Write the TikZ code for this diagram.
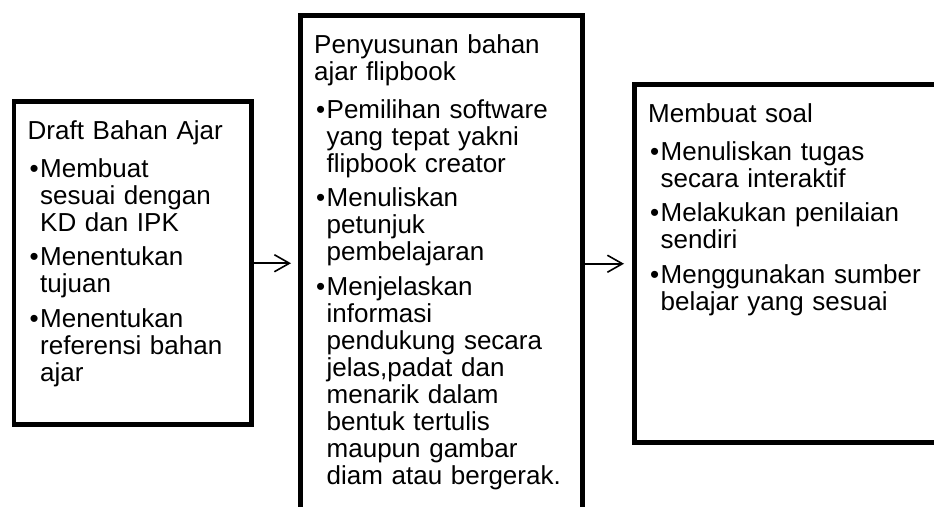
\documentclass[tikz,border=0pt]{standalone}
\usepackage{fontspec}
\setmainfont{Liberation Sans}
\usetikzlibrary{arrows.meta,positioning}
% bullet item with hanging indent
\newcommand{\pitem}[1]{\par\vspace{7.5pt}\leftskip=12.5pt\noindent\hspace*{-12.5pt}\makebox[12.5pt][l]{\hspace{2pt}\textbullet}#1\par}

\begin{document}
\begin{tikzpicture}[x=1pt,y=1pt,>=Latex,
  stepbox/.style={draw,line width=4.5pt,inner sep=0pt,anchor=north west},
  boxtext/.style={anchor=north west,inner sep=0pt,text width=330pt,align=left,
    font=\fontsize{26}{27}\selectfont},
  flowarrow/.style={line width=1.6pt,-{Straight Barb[length=15pt,width=17pt]}}]
  \useasboundingbox (0,0) rectangle (934,506);
  % Boxes
  \node[stepbox,minimum width=237.5pt,minimum height=323pt] (draft) at (11.5,406.5) {};
  \node[stepbox,minimum width=282pt,minimum height=520pt] (flipbook) at (298,492.5) {};
  \node[stepbox,minimum width=330pt,minimum height=358pt] (soal) at (632,423.5) {};
  % Box contents
  \node[boxtext] (drafttext) at ([shift={(16,-20.5)}]draft.north west) {\strut Draft Bahan Ajar\par\vspace{3.5pt}
    \pitem{Membuat\\sesuai dengan\\KD dan IPK}
    \pitem{Menentukan\\tujuan}
    \pitem{Menentukan\\referensi bahan\\ajar}};
  \node[boxtext] (flipbooktext) at ([shift={(16,-20.5)}]flipbook.north west) {\strut Penyusunan bahan\\ajar flipbook\par\vspace{3.5pt}
    \pitem{Pemilihan software\\yang tepat yakni\\flipbook creator}
    \pitem{Menuliskan\\petunjuk\\pembelajaran}
    \pitem{Menjelaskan\\informasi\\pendukung secara\\jelas,padat dan\\menarik dalam\\bentuk tertulis\\maupun gambar\\diam atau bergerak.}};
  \node[boxtext] (soaltext) at ([shift={(16,-20.5)}]soal.north west) {\strut Membuat soal\par\vspace{3.5pt}
    \pitem{Menuliskan tugas\\secara interaktif}
    \pitem{Melakukan penilaian\\sendiri}
    \pitem{Menggunakan sumber\\belajar yang sesuai}};
  % Arrows
  \draw[flowarrow,shorten >=7pt] (draft.east) -- (draft.east -| flipbook.west);
  \draw[flowarrow,shorten >=8pt] (flipbook.east |- soal.west) -- (soal.west);
\end{tikzpicture}
\end{document}
